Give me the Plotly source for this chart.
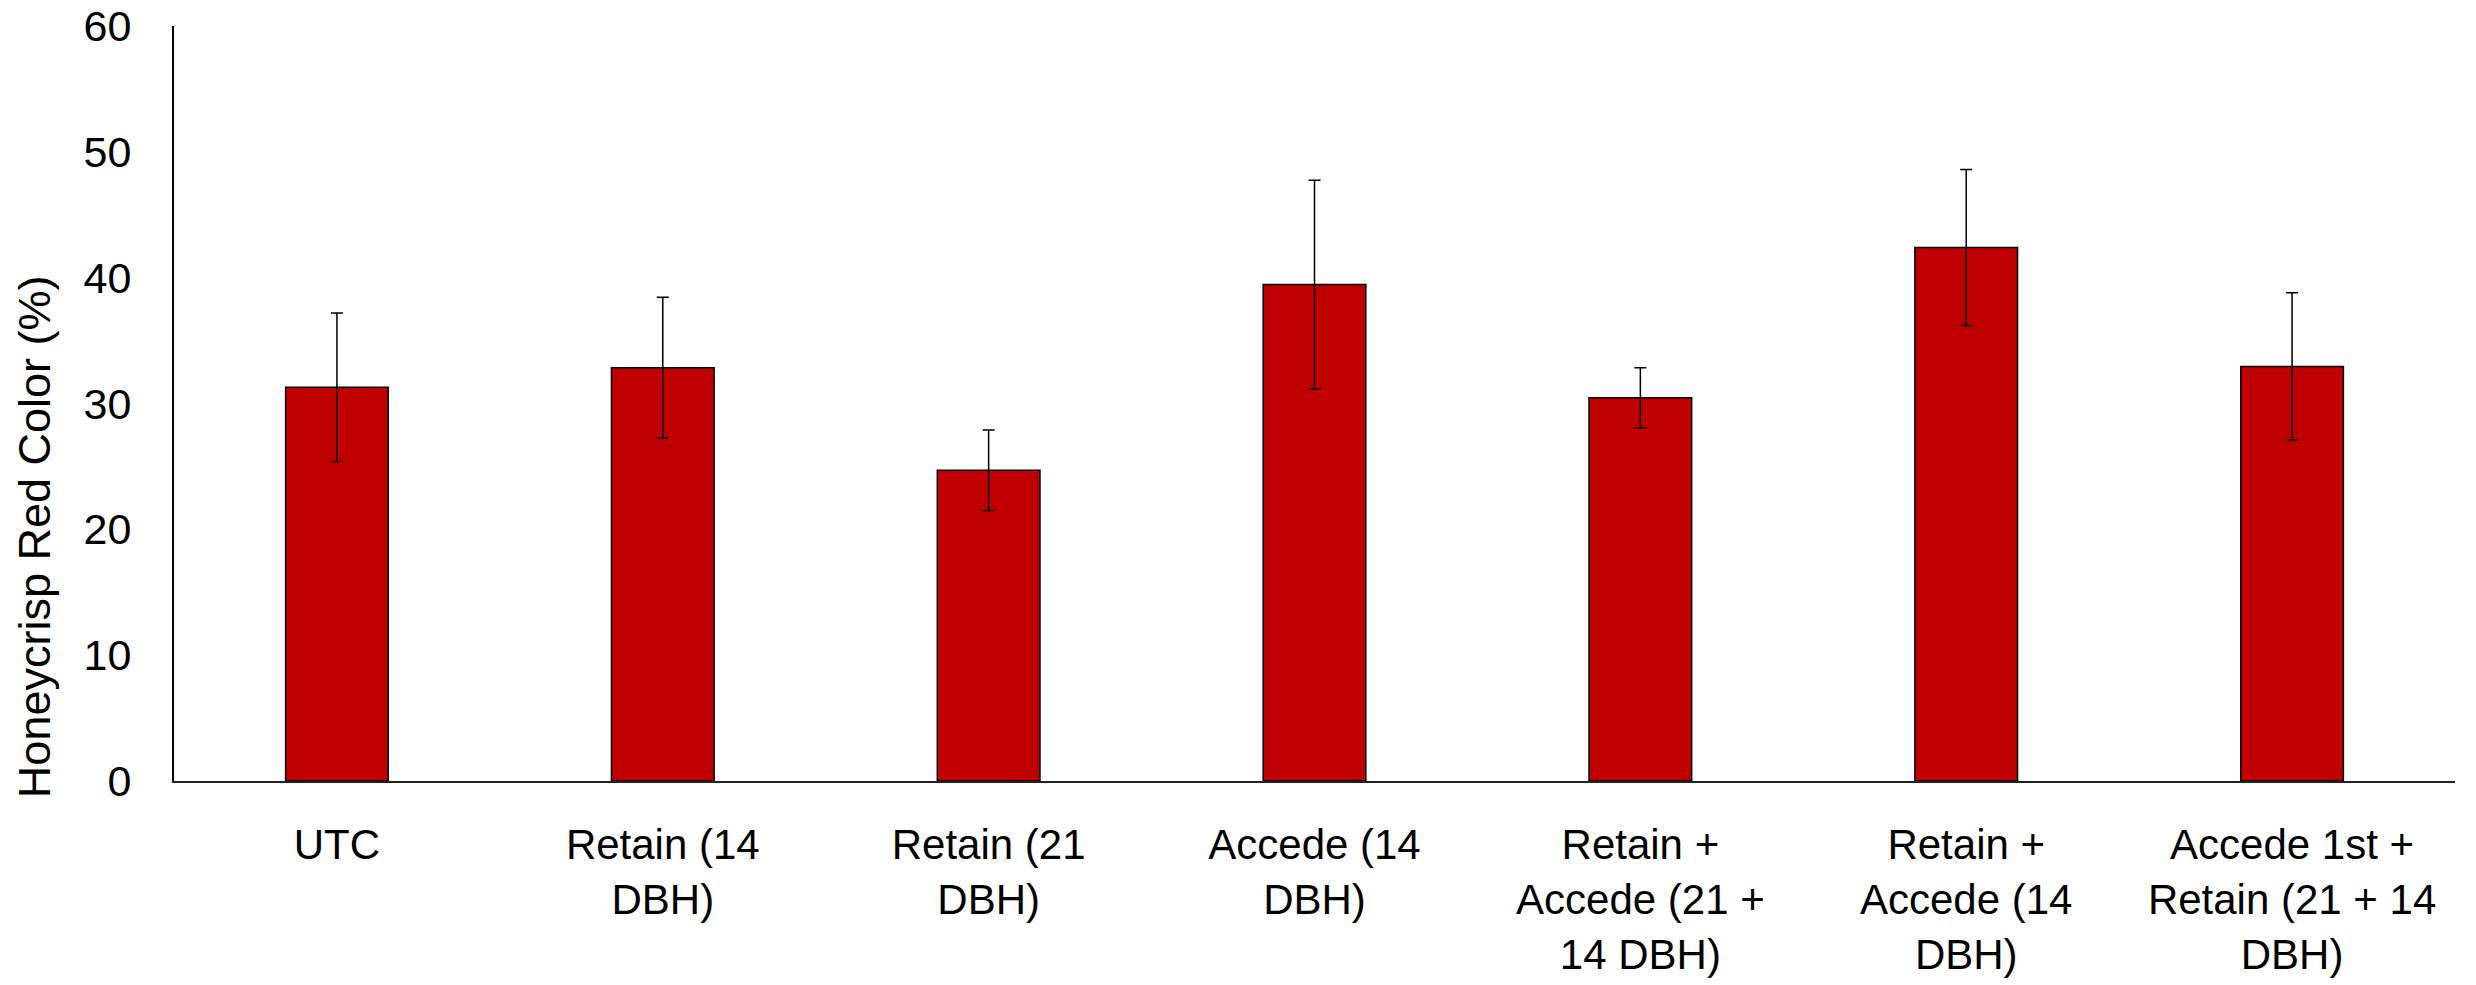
import plotly.graph_objects as go

categories = [
    "UTC",
    "Retain (14<br>DBH)",
    "Retain (21<br>DBH)",
    "Accede (14<br>DBH)",
    "Retain +<br>Accede (21 +<br>14 DBH)",
    "Retain +<br>Accede (14<br>DBH)",
    "Accede 1st +<br>Retain (21 + 14<br>DBH)",
]
red_color = [31.3, 32.85, 24.7, 39.45, 30.45, 42.4, 32.95]
std_err = [5.9, 5.6, 3.2, 8.3, 2.4, 6.2, 5.85]
y_ticks = [0, 10, 20, 30, 40, 50, 60]
y_title = "Honeycrisp Red Color (%)"

FONT = "Liberation Sans, Arial, sans-serif"

fig = go.Figure()
fig.add_trace(go.Bar(
    x=categories,
    y=red_color,
    width=0.315,
    marker=dict(color="#C00000", line=dict(color="black", width=1.5)),
    error_y=dict(type="data", array=std_err, visible=True,
                 color="black", thickness=1.5, width=6),
))

fig.update_layout(
    width=2476, height=985,
    margin=dict(l=174, r=21, t=26, b=204, autoexpand=False),
    plot_bgcolor="white", paper_bgcolor="white",
    showlegend=False,
    font=dict(family=FONT, color="black"),
    xaxis=dict(
        showline=True, linecolor="#222222", linewidth=2,
        showgrid=False, ticks="", tickfont=dict(size=42, family=FONT),
        ticklabelstandoff=26, automargin=False, ticklabeloverflow="allow",
    ),
    yaxis=dict(
        range=[0, 60], tickvals=y_ticks, showline=True, linecolor="black",
        linewidth=2, showgrid=False, zeroline=False, ticks="",
        tickfont=dict(size=43, family=FONT), ticklabelstandoff=32,
        automargin=False, ticklabeloverflow="allow",
    ),
    annotations=[dict(
        text=y_title, textangle=-90, xref="paper", yref="paper",
        x=0, y=0.323, xanchor="center", yanchor="middle", xshift=-140,
        showarrow=False, font=dict(size=45, family=FONT, color="black"),
    )],
)

fig.write_html(
    "out.html",
    config={"displayModeBar": False},
    post_script="document.body.style.margin='0px';document.body.style.overflow='hidden';",
)
